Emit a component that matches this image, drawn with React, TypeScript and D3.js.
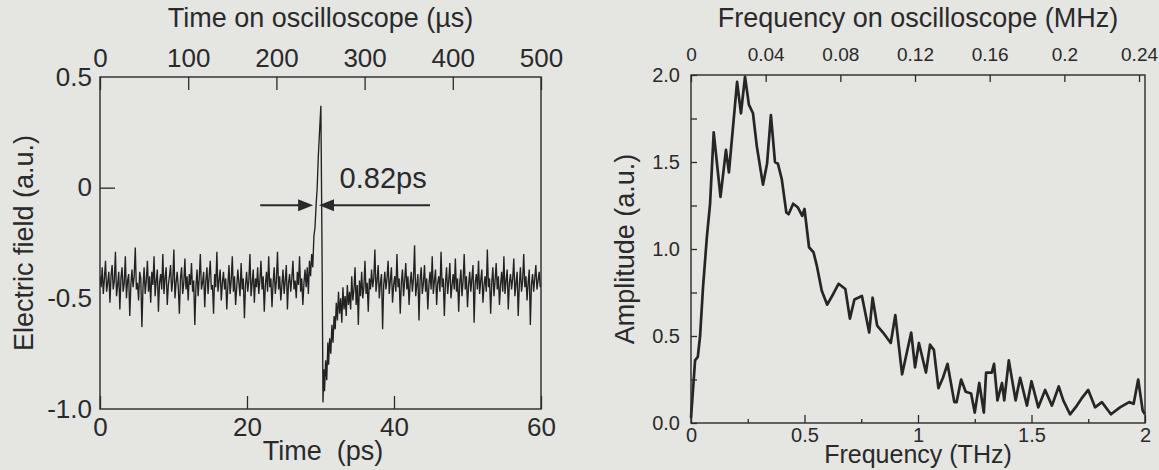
import React, { useEffect, useRef } from 'react';
import * as d3 from 'd3';

// ---- time-domain trace, values in 1/100 a.u.
const stepPs = 0.15;
const preStartPs = 0;
const preField = [
  -40, -45, -36, -48, -41, -33, -47, -43, -38, -52, -40, -35, -46, -42, -29, -49,
  -44, -38, -55, -41, -36, -47, -43, -31, -50, -42, -39, -58, -44, -37, -45, -40,
  -27, -46, -43, -51, -38, -41, -63, -45, -36, -48, -42, -33, -47, -40, -52, -38,
  -44, -31, -49, -42, -37, -56, -43, -39, -46, -30, -48, -41, -36, -53, -44, -40,
  -35, -47, -42, -28, -50, -43, -38, -45, -57, -41, -36, -48, -43, -32, -46, -40,
  -51, -39, -44, -34, -47, -42, -62, -45, -37, -49, -41, -30, -46, -43, -38, -54,
  -42, -36, -48, -40, -33, -46, -44, -57, -39, -45, -29, -47, -42, -37, -51, -43,
  -38, -46, -41, -55, -44, -35, -48, -42, -31, -47, -40, -53, -45, -37, -43, -49,
  -34, -46, -41, -59, -44, -38, -47, -42, -30, -49, -43, -37, -52, -41, -45, -36,
  -48, -42, -33, -46, -40, -56, -44, -38, -47, -31, -45, -41, -54, -43, -36, -48,
  -42, -29, -46, -40, -51, -44, -37, -48, -42, -35, -55, -43, -39, -47, -41, -33,
  -46, -42, -50, -38, -44, -31, -47, -41, -53, -43, -37, -45, -36, -48, -33, -40,
].map(v => v / 100);

// the pulse itself (ps, a.u.)
const pulseTimes = [28.8, 28.95, 29.1, 29.25, 29.4, 29.55, 29.7, 29.85, 30.05, 30.2, 30.34, 30.45, 30.55, 30.7, 30.85, 31.0, 31.1];
const pulseField = [-0.30, -0.36, -0.22, -0.18, -0.08, 0.0, 0.14, 0.24, 0.37, -0.25, -0.97, -0.82, -0.92, -0.78, -0.87, -0.70, -0.80];

const postStartPs = 31.25;
const postField = [
  -68, -75, -62, -70, -58,
  -64, -52, -60, -47, -57, -50, -61, -45, -55, -49, -58, -44, -53,
  -47, -55, -40, -51, -46, -36, -53, -44, -62, -42, -49, -38, -50, -45, -33, -48, -43, -56, -41, -46,
  -37, -45, -41, -28, -47, -42, -35, -50, -43, -39, -64, -44, -38, -46, -41, -33,
  -48, -42, -36, -52, -44, -40, -47, -30, -45, -41, -57, -43, -37, -49, -42, -34,
  -46, -40, -53, -43, -38, -47, -41, -26, -49, -44, -39, -60, -42, -36, -48, -43,
  -35, -47, -41, -55, -44, -38, -46, -31, -48, -42, -37, -53, -43, -40, -47, -29,
  -45, -41, -58, -43, -36, -48, -42, -34, -50, -44, -39, -46, -32, -47, -41, -56,
  -43, -37, -49, -42, -30, -46, -40, -54, -44, -38, -47, -41, -35, -61, -43, -39,
  -46, -33, -48, -42, -37, -52, -44, -40, -47, -28, -45, -41, -57, -43, -36, -49,
  -42, -34, -46, -40, -53, -44, -38, -47, -31, -48, -42, -37, -55, -43, -39, -46,
  -41, -32, -49, -43, -38, -58, -44, -36, -47, -42, -30, -45, -40, -51, -43, -37,
  -62, -44, -39, -47, -41, -35, -46, -42, -38, -45,
].map(v => v / 100);

const timeTicks = [0, 20, 40, 60];
const scopeTimeTicks = [0, 100, 200, 300, 400, 500];
const fieldTicks = [0.5, 0, -0.5, -1.0];
const fieldTickLabels = ['0.5', '0', '-0.5', '-1.0'];

// pulse width marker (ps / a.u.)
const widthLabel = '0.82ps';
const widthLevel = -0.08;
const widthArrowLeft = [21.8, 29.0];
const widthArrowRight = [29.8, 44.9];

// ---- spectrum
const freqTHz = [
  0, 0.018, 0.03, 0.04, 0.053, 0.07, 0.084, 0.10, 0.13, 0.154,
  0.167, 0.203, 0.22, 0.238, 0.255, 0.273, 0.29, 0.317, 0.335, 0.352,
  0.37, 0.383, 0.40, 0.42, 0.43, 0.45, 0.47, 0.49, 0.50, 0.52,
  0.54, 0.555, 0.576, 0.60, 0.626, 0.65, 0.68, 0.70, 0.72, 0.753,
  0.785, 0.80, 0.82, 0.846, 0.88, 0.90, 0.93, 0.97, 0.987, 1.004,
  1.035, 1.053, 1.07, 1.09, 1.11, 1.13, 1.16, 1.17, 1.19, 1.21,
  1.234, 1.25, 1.27, 1.29, 1.30, 1.325, 1.335, 1.35, 1.37, 1.38,
  1.40, 1.43, 1.45, 1.48, 1.50, 1.53, 1.56, 1.59, 1.62, 1.64,
  1.67, 1.70, 1.72, 1.75, 1.78, 1.81, 1.85, 1.89, 1.93, 1.95,
  1.97, 1.99, 2.0,
];
const amplitude = [
  0.03, 0.36, 0.38, 0.50, 0.78, 1.07, 1.26, 1.67, 1.30, 1.57,
  1.44, 1.96, 1.78, 1.99, 1.83, 1.78, 1.59, 1.37, 1.49, 1.77,
  1.50, 1.49, 1.40, 1.21, 1.20, 1.26, 1.24, 1.19, 1.23, 1.01,
  0.98, 0.90, 0.76, 0.68, 0.74, 0.80, 0.77, 0.60, 0.71, 0.73,
  0.52, 0.72, 0.56, 0.52, 0.46, 0.62, 0.28, 0.52, 0.32, 0.46,
  0.29, 0.45, 0.42, 0.20, 0.26, 0.34, 0.12, 0.12, 0.25, 0.18,
  0.17, 0.06, 0.23, 0.06, 0.29, 0.29, 0.34, 0.13, 0.23, 0.13,
  0.36, 0.13, 0.26, 0.10, 0.24, 0.09, 0.19, 0.10, 0.21, 0.13,
  0.05, 0.10, 0.14, 0.19, 0.09, 0.12, 0.05, 0.09, 0.12, 0.11,
  0.25, 0.07, 0.05,
];

const freqTicks = [0, 0.5, 1, 1.5, 2];
const freqTickLabels = ['0', '0.5', '1', '1.5', '2'];
const freqMinorTicks = [0.25, 0.75, 1.25, 1.75];
const scopeFreqTicks = [0, 0.04, 0.08, 0.12, 0.16, 0.2, 0.24];
const scopeFreqLabels = ['0', '0.04', '0.08', '0.12', '0.16', '0.2', '0.24'];
const ampTicks = [0, 0.25, 0.5, 0.75, 1, 1.25, 1.5, 1.75, 2];
const ampTickLabels = { 0: '0.0', 0.5: '0.5', 1: '1.0', 1.5: '1.5', 2: '2.0' };

const W = 1159;
const H = 470;
const FONT = '"Liberation Sans", Arial, sans-serif';
const INK = '#2a2a2a';

const App = () => {
  const svgRef = useRef(null);

  useEffect(() => {
    const svg = d3.select(svgRef.current);
    svg.selectAll('*').remove();

    svg.append('rect').attr('width', W).attr('height', H).attr('fill', '#e5e5e2');

    const tidy = (g, size) => {
      g.select('.domain').remove();
      g.attr('font-family', FONT).attr('font-size', size);
      g.selectAll('line').attr('stroke', INK).attr('stroke-width', 1.3);
      g.selectAll('text').attr('fill', INK);
    };

    // ================= left panel =================
    const L = { left: 100, right: 541, top: 77, bottom: 409 };
    const x = d3.scaleLinear().domain([0, 60]).range([L.left, L.right]);
    const xTop = d3.scaleLinear().domain([0, 500]).range([L.left, L.right]);
    const y = d3.scaleLinear().domain([-1, 0.5]).range([L.bottom, L.top]);

    const trace = [
      ...preField.map((v, i) => [preStartPs + i * stepPs, v]),
      ...pulseTimes.map((t, i) => [t, pulseField[i]]),
      ...postField.map((v, i) => [postStartPs + i * stepPs, v]),
    ].filter(d => d[0] <= 60);

    svg.append('defs').append('clipPath').attr('id', 'clipL')
      .append('rect').attr('x', L.left).attr('y', L.top)
      .attr('width', L.right - L.left).attr('height', L.bottom - L.top);

    svg.append('path')
      .datum(trace)
      .attr('clip-path', 'url(#clipL)')
      .attr('fill', 'none')
      .attr('stroke', '#222')
      .attr('stroke-width', 1.35)
      .attr('d', d3.line().x(d => x(d[0])).y(d => y(d[1])));

    svg.append('rect')
      .attr('x', L.left).attr('y', L.top)
      .attr('width', L.right - L.left).attr('height', L.bottom - L.top)
      .attr('fill', 'none').attr('stroke', INK).attr('stroke-width', 1.4);

    const lb = svg.append('g').attr('transform', `translate(0,${L.bottom})`)
      .call(d3.axisBottom(x).tickValues(timeTicks).tickFormat(d3.format('d')).tickSizeInner(-13).tickSizeOuter(0).tickPadding(9));
    tidy(lb, 26);

    const lt = svg.append('g').attr('transform', `translate(0,${L.top})`)
      .call(d3.axisTop(xTop).tickValues(scopeTimeTicks).tickFormat(d3.format('d')).tickSizeInner(-13).tickSizeOuter(0).tickPadding(10));
    tidy(lt, 26);

    const ll = svg.append('g').attr('transform', `translate(${L.left},0)`)
      .call(d3.axisLeft(y).tickValues(fieldTicks).tickFormat((d, i) => fieldTickLabels[i]).tickSizeInner(-15).tickSizeOuter(0).tickPadding(8));
    tidy(ll, 26);
    ll.selectAll('.tick').filter(d => d !== 0).select('line').remove();

    // pulse width marker
    const yw = y(widthLevel);
    const arrow = (from, tip) => {
      const a = x(from);
      const b = x(tip);
      const dir = Math.sign(b - a);
      svg.append('line').attr('x1', a).attr('x2', b - dir * 10).attr('y1', yw).attr('y2', yw)
        .attr('stroke', INK).attr('stroke-width', 2);
      svg.append('path')
        .attr('d', `M${b},${yw}L${b - dir * 15},${yw - 6}L${b - dir * 15},${yw + 6}Z`)
        .attr('fill', INK);
    };
    arrow(widthArrowLeft[0], widthArrowLeft[1]);
    arrow(widthArrowRight[1], widthArrowRight[0]);

    svg.append('text').attr('x', x(32.6)).attr('y', y(0))
      .attr('font-family', FONT).attr('font-size', 29).attr('fill', INK)
      .text(widthLabel);

    svg.append('text').attr('x', (L.left + L.right) / 2).attr('y', 27)
      .attr('text-anchor', 'middle').attr('font-family', FONT).attr('font-size', 27).attr('fill', INK)
      .text('Time on oscilloscope (\u00b5s)');
    svg.append('text').attr('x', 323).attr('y', 460)
      .attr('text-anchor', 'middle').attr('font-family', FONT).attr('font-size', 27).attr('fill', INK)
      .text('Time\u00a0 (ps)');
    svg.append('text').attr('transform', `translate(33,${(L.top + L.bottom) / 2}) rotate(-90)`)
      .attr('text-anchor', 'middle').attr('font-family', FONT).attr('font-size', 27).attr('fill', INK)
      .text('Electric field (a.u.)');

    // ================= right panel =================
    const R = { left: 691, right: 1145, top: 75, bottom: 423 };
    const fx = d3.scaleLinear().domain([0, 2]).range([R.left, R.right]);
    const fxTop = d3.scaleLinear().domain([0, 0.2432]).range([R.left, R.right]);
    const fy = d3.scaleLinear().domain([0, 2]).range([R.bottom, R.top]);

    const spectrum = freqTHz.map((f, i) => [f, amplitude[i]]);

    svg.append('path')
      .datum(spectrum)
      .attr('fill', 'none')
      .attr('stroke', '#262626')
      .attr('stroke-width', 2.7)
      .attr('stroke-linejoin', 'round')
      .attr('d', d3.line().x(d => fx(d[0])).y(d => fy(d[1])));

    svg.append('rect')
      .attr('x', R.left).attr('y', R.top)
      .attr('width', R.right - R.left).attr('height', R.bottom - R.top)
      .attr('fill', 'none').attr('stroke', INK).attr('stroke-width', 1.4);

    const rb = svg.append('g').attr('transform', `translate(0,${R.bottom})`)
      .call(d3.axisBottom(fx).tickValues(freqTicks).tickFormat((d, i) => freqTickLabels[i]).tickSizeInner(-8).tickSizeOuter(0).tickPadding(5));
    tidy(rb, 20);
    const rbm = svg.append('g').attr('transform', `translate(0,${R.bottom})`)
      .call(d3.axisBottom(fx).tickValues(freqMinorTicks).tickFormat(() => '').tickSizeInner(-4).tickSizeOuter(0));
    tidy(rbm, 20);

    const rt = svg.append('g').attr('transform', `translate(0,${R.top})`)
      .call(d3.axisTop(fxTop).tickValues(scopeFreqTicks).tickFormat((d, i) => scopeFreqLabels[i]).tickSizeInner(-7).tickSizeOuter(0).tickPadding(14));
    tidy(rt, 19);

    const rl = svg.append('g').attr('transform', `translate(${R.left},0)`)
      .call(d3.axisLeft(fy).tickValues(ampTicks).tickFormat(d => ampTickLabels[d] ?? '').tickSizeInner(-6).tickSizeOuter(0).tickPadding(11));
    tidy(rl, 20);

    svg.append('text').attr('x', (R.left + R.right) / 2).attr('y', 27)
      .attr('text-anchor', 'middle').attr('font-family', FONT).attr('font-size', 27).attr('fill', INK)
      .text('Frequency on oscilloscope (MHz)');
    svg.append('text').attr('x', (R.left + R.right) / 2).attr('y', 463)
      .attr('text-anchor', 'middle').attr('font-family', FONT).attr('font-size', 25).attr('fill', INK)
      .text('Frequency (THz)');
    svg.append('text').attr('transform', `translate(634,${(R.top + R.bottom) / 2}) rotate(-90)`)
      .attr('text-anchor', 'middle').attr('font-family', FONT).attr('font-size', 27).attr('fill', INK)
      .text('Amplitude (a.u.)');
  }, []);

  return (
    <svg
      ref={svgRef}
      width={W}
      height={H}
      style={{ position: 'absolute', left: 0, top: 0, display: 'block' }}
    />
  );
};

export default App;
